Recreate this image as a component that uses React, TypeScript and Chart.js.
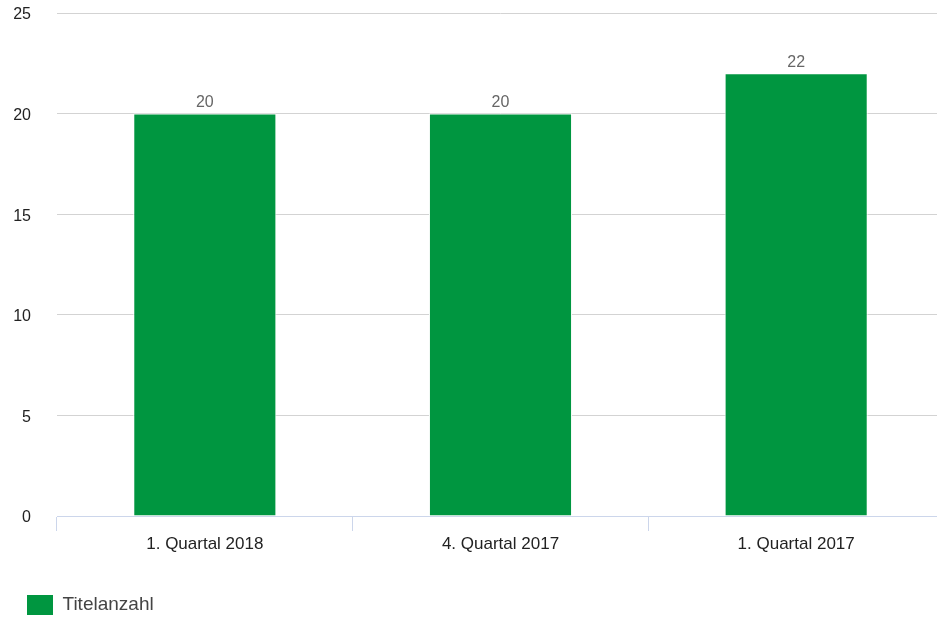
import React, { useEffect, useRef } from "react";
import { Chart, registerables } from "chart.js";

Chart.register(...registerables);

const categories = ["1. Quartal 2018", "4. Quartal 2017", "1. Quartal 2017"];
const seriesName = "Titelanzahl";
const seriesValues = [20, 20, 22];
const yTicks = [0, 5, 10, 15, 20, 25];

const FONT = "'Liberation Sans', Arial, Helvetica, sans-serif";
const GREEN = "#009640";

const dataLabelPlugin = {
  id: "dataLabels",
  afterDatasetsDraw(chart: any) {
    const ctx = chart.ctx;
    ctx.save();
    ctx.font = `16px ${FONT}`;
    ctx.fillStyle = "#666666";
    ctx.textAlign = "center";
    ctx.textBaseline = "bottom";
    chart.data.datasets.forEach((ds: any, i: number) => {
      const meta = chart.getDatasetMeta(i);
      meta.data.forEach((bar: any, j: number) => {
        ctx.fillText(String(ds.data[j]), bar.x, bar.y - 3);
      });
    });
    ctx.restore();
  },
};

const legendShiftPlugin = {
  id: "legendShift",
  afterLayout(chart: any) {
    if (chart.legend) {
      chart.legend.left += 21;
      chart.legend.top += 4;
    }
  },
};

export default function App() {
  const canvasRef = useRef<HTMLCanvasElement | null>(null);

  useEffect(() => {
    document.body.style.margin = "0";
    const canvas = canvasRef.current;
    if (!canvas) return;
    const chart: any = new Chart(canvas, {
      type: "bar",
      data: {
        labels: categories,
        datasets: [
          {
            label: seriesName,
            data: seriesValues,
            backgroundColor: GREEN,
            borderColor: "#ffffff",
            borderWidth: 1,
            barPercentage: 1,
            categoryPercentage: 0.484,
          },
        ],
      },
      options: {
        animation: false,
        responsive: true,
        maintainAspectRatio: false,
        layout: { padding: { top: 13, left: 0, right: 0, bottom: 0 } },
        plugins: {
          tooltip: { enabled: false },
          legend: {
            position: "bottom",
            align: "start",
            labels: {
              boxWidth: 26,
              boxHeight: 20,
              padding: 6,
              color: "#444444",
              font: { family: FONT, size: 19 },
              generateLabels: (chart: any) =>
                chart.data.datasets.map((ds: any, i: number) => ({
                  text: ds.label,
                  fillStyle: GREEN,
                  strokeStyle: "rgba(0,0,0,0)",
                  lineWidth: 0,
                  hidden: false,
                  datasetIndex: i,
                  fontColor: "#444444",
                })),
            },
          },
        },
        scales: {
          x: {
            offset: true,
            grid: {
              offset: true,
              drawOnChartArea: false,
              drawTicks: true,
              tickLength: 15,
              color: "#ccd6eb",
            },
            border: { display: true, color: "#ccd6eb", width: 1 },
            ticks: {
              color: "#222222",
              padding: 3,
              font: { family: FONT, size: 17 },
              maxRotation: 0,
            },
            afterFit: (scale: any) => {
              scale.height = 69;
            },
          },
          y: {
            min: 0,
            max: 25,
            afterBuildTicks: (scale: any) => {
              scale.ticks = yTicks.map((v) => ({ value: v }));
            },
            grid: {
              drawTicks: false,
              color: "#d3d3d3",
            },
            border: { display: false },
            ticks: {
              color: "#222222",
              padding: 26,
              labelOffset: 2,
              font: { family: FONT, size: 16 },
            },
            afterFit: (scale: any) => {
              scale.width = 57;
              scale.paddingTop = 0;
              scale.paddingBottom = 0;
            },
          },
        },
      },
      plugins: [dataLabelPlugin, legendShiftPlugin],
    });
    return () => chart.destroy();
  }, []);

  return (
    <div
      style={{
        position: "fixed",
        left: 0,
        top: 0,
        width: 937,
        height: 621,
        overflow: "hidden",
        background: "#ffffff",
      }}
    >
      <div style={{ position: "relative", width: 944, height: 621 }}>
        <canvas ref={canvasRef} />
      </div>
    </div>
  );
}
